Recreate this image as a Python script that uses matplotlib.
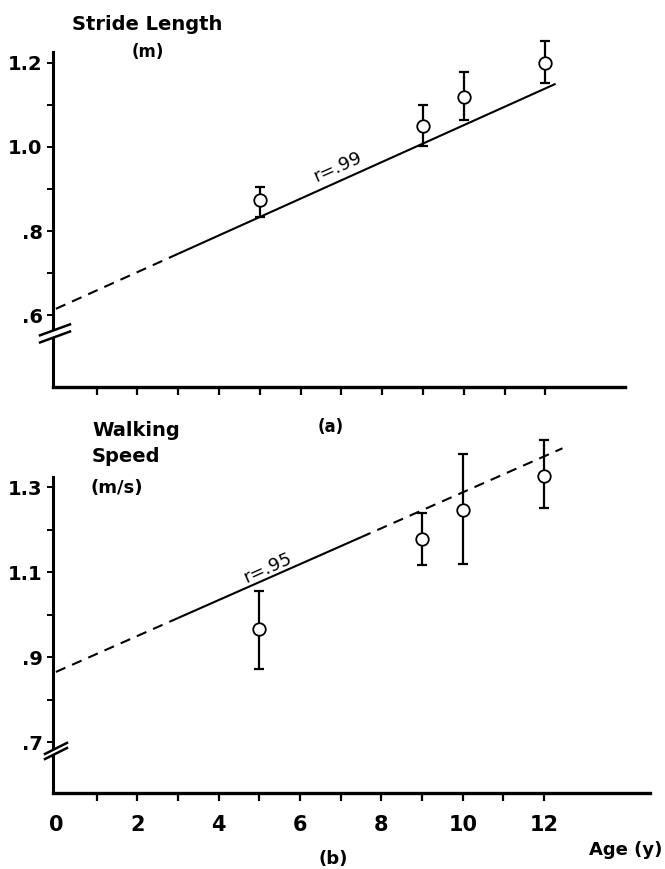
import matplotlib.pyplot as plt
from matplotlib.lines import Line2D
from matplotlib.patches import Polygon

# data
ages = [5, 9, 10, 12]

stride_mean = [0.874, 1.05, 1.12, 1.20]
stride_lo = [0.834, 1.003, 1.064, 1.152]
stride_hi = [0.905, 1.10, 1.179, 1.253]

speed_mean = [0.965, 1.177, 1.246, 1.327]
speed_lo = [0.873, 1.116, 1.118, 1.251]
speed_hi = [1.056, 1.24, 1.378, 1.412]

# regression lines: intercept, slope, segments (x0, x1, dashed?)
stride_fit = (0.615, 0.0437)
stride_segs = [(0.0, 3.0, True), (3.0, 12.25, False)]
speed_fit = (0.865, 0.0423)
speed_segs = [(0.0, 3.0, True), (3.0, 7.5, False), (7.5, 12.45, True)]

xtick_pos = list(range(1, 13))
xtick_lab_pos = [0, 2, 4, 6, 8, 10, 12]

W, H = 665, 869
fig = plt.figure(figsize=(W / 100, H / 100), dpi=100)

LAB = dict(family=['Liberation Sans Narrow', 'DejaVu Sans'], fontweight='bold')


def px_axes(left, right, top, bottom):
    return fig.add_axes([left / W, 1 - bottom / H, (right - left) / W, (bottom - top) / H])


def style(ax, major, minor):
    for s in ['top', 'right']:
        ax.spines[s].set_visible(False)
    ax.spines['left'].set_linewidth(2.2)
    ax.spines['bottom'].set_linewidth(2.4)
    ax.set_xticks(xtick_pos)
    ax.tick_params(axis='x', direction='out', length=6, width=1.6, labelbottom=False)
    ax.set_yticks(major)
    ax.set_yticks(minor, minor=True)
    ax.tick_params(axis='y', which='both', direction='out', length=4, width=1.4)
    ax.set_yticklabels(['.' + f'{v:.1f}'.split('.')[1] if v < 1 else f'{v:.1f}' for v in major],
                       fontsize=14, **LAB)


def fit_line(ax, fit, segs):
    a, b = fit
    for x0, x1, dashed in segs:
        ls = (0, (5, 3.5)) if dashed else '-'
        ax.plot([x0, x1], [a + b * x0, a + b * x1], color='black', lw=1.5, ls=ls,
                solid_capstyle='butt', dash_capstyle='butt', clip_on=False)


def points(ax, mean, lo, hi):
    err = [[m - l for m, l in zip(mean, lo)], [h - m for m, h in zip(mean, hi)]]
    eb = ax.errorbar(ages, mean, yerr=err, fmt='none', ecolor='black', elinewidth=1.6,
                     capsize=3.6, capthick=1.6, zorder=3)
    for art in eb.lines[1] + eb.lines[2]:
        art.set_clip_on(False)
    ax.plot(ages, mean, 'o', ms=9, mfc='white', mec='black', mew=1.3, zorder=4, clip_on=False)


def axis_break(ax, y0, rise, gap, wl, wr):
    # two short slanted strokes across the left spine
    t = ax.get_yaxis_transform()
    ax.add_patch(Polygon([(-wl, y0), (wr, y0 + rise), (wr, y0 + rise + gap), (-wl, y0 + gap)],
                         closed=True, transform=t, facecolor='white', edgecolor='none',
                         clip_on=False, zorder=5))
    for d in (0, gap):
        ax.add_line(Line2D([-wl, wr], [y0 + d, y0 + rise + d], transform=t, color='black',
                           lw=1.8, clip_on=False, zorder=6))


# panel (a)
ax1 = px_axes(53, 625, 52, 387)
ax1.set_xlim(-0.07, 13.95)
ax1.set_ylim(0.429, 1.226)
style(ax1, [0.6, 0.8, 1.0, 1.2], [0.7, 0.9, 1.1])
fit_line(ax1, stride_fit, stride_segs)
points(ax1, stride_mean, stride_lo, stride_hi)
ax1.text(6.9, 0.952, 'r=.99', rotation=24, ha='center', va='center', fontsize=13,
         family='DejaVu Sans', color='black')

# panel (b)
ax2 = px_axes(53, 650, 477, 793)
ax2.set_xlim(-0.07, 14.6)
ax2.set_ylim(0.58, 1.324)
style(ax2, [0.7, 0.9, 1.1, 1.3], [0.8, 1.0, 1.2])
fit_line(ax2, speed_fit, speed_segs)
points(ax2, speed_mean, speed_lo, speed_hi)
ax2.text(5.2, 1.109, 'r=.95', rotation=24, ha='center', va='center', fontsize=13,
         family='DejaVu Sans', color='black')

# x labels for bottom panel
for v in xtick_lab_pos:
    ax2.text(v, -0.1, str(v), transform=ax2.get_xaxis_transform(), ha='center', va='center',
             fontsize=15, **LAB)

axis_break(ax1, 0.535, 0.026, 0.017, 13 / 572, 17 / 572)
axis_break(ax2, 0.66, 0.026, 0.012, 8 / 597, 14 / 597)


def ftext(x, y, s, **kw):
    fig.text(x / W, 1 - y / H, s, va='center', **LAB, **kw)


ftext(147, 25, 'Stride Length', ha='center', fontsize=14)
ftext(148, 52, '(m)', ha='center', fontsize=12)
ftext(92, 430, 'Walking', ha='left', fontsize=14)
ftext(92, 457, 'Speed', ha='left', fontsize=14)
ftext(90, 488, '(m/s)', ha='left', fontsize=13)
ftext(331, 427, '(a)', ha='center', fontsize=12)
ftext(333, 859, '(b)', ha='center', fontsize=13)
ftext(662, 850, 'Age (y)', ha='right', fontsize=13)

fig.savefig('out.png', dpi=100)
